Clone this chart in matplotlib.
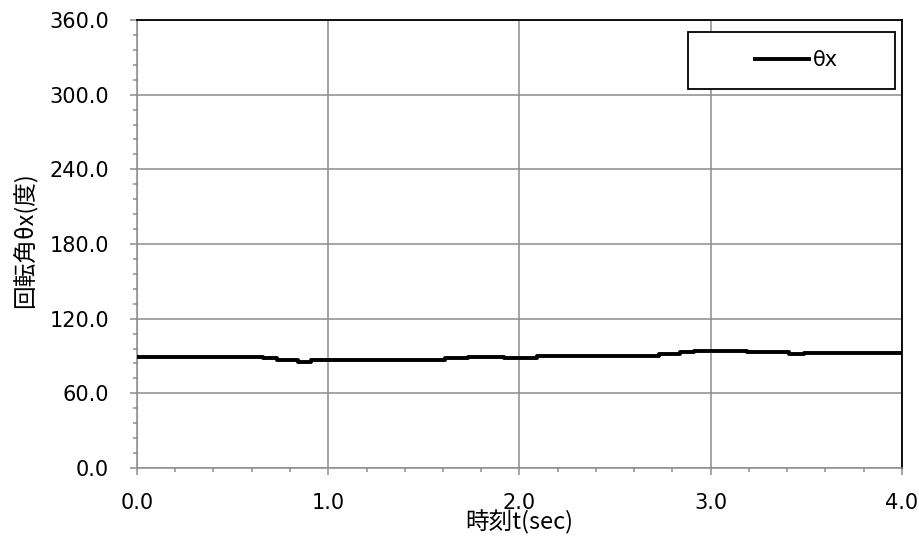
import matplotlib
matplotlib.use("Agg")
import matplotlib.pyplot as plt
from matplotlib.patches import Rectangle
from matplotlib.ticker import MultipleLocator, FormatStrFormatter

# step data (time in sec, rotation angle in deg)
times = [0.0, 0.66, 0.73, 0.84, 0.91, 1.61, 1.73, 1.92, 2.09, 2.73, 2.84, 2.91, 3.19, 3.41, 3.49, 4.0]
theta_x = [89.5, 88.0, 86.5, 85.0, 86.5, 88.0, 89.5, 88.0, 90.0, 91.4, 93.0, 94.3, 93.0, 91.4, 92.6, 92.6]

x_ticks = [0.0, 1.0, 2.0, 3.0, 4.0]
y_ticks = [0.0, 60.0, 120.0, 180.0, 240.0, 300.0, 360.0]

W, H = 920, 537
fig = plt.figure(figsize=(W / 100, H / 100), dpi=100)
ax = fig.add_axes([137 / W, 1 - 468 / H, (902 - 137) / W, (468 - 20) / H])

ax.plot(times, theta_x, color="black", lw=2.8, drawstyle="steps-post",
        solid_joinstyle="round", label="θx", zorder=3)

ax.set_xlim(0, 4)
ax.set_ylim(0, 360)
ax.set_xticks(x_ticks)
ax.set_yticks(y_ticks)
ax.xaxis.set_minor_locator(MultipleLocator(0.2))
ax.yaxis.set_minor_locator(MultipleLocator(12))
ax.xaxis.set_major_formatter(FormatStrFormatter("%.1f"))
ax.yaxis.set_major_formatter(FormatStrFormatter("%.1f"))

grey = "#8c8c8c"
ax.grid(True, which="major", color=grey, lw=1.1)
ax.set_axisbelow(True)
for s in ["left", "bottom"]:
    ax.spines[s].set_color(grey)
    ax.spines[s].set_linewidth(1.1)
for s in ["top", "right"]:
    ax.spines[s].set_color("black")
    ax.spines[s].set_linewidth(1.3)

ax.tick_params(which="major", direction="out", length=5, width=1.1, color=grey,
               labelsize=15, labelcolor="black")
ax.tick_params(which="minor", direction="out", length=3, width=1.1, color=grey)
ax.tick_params(axis="x", which="major", pad=13)
ax.tick_params(axis="y", which="major", pad=15)

cjk = ["Noto Sans CJK JP", "DejaVu Sans"]
fig.text(519 / W, 1 - 522 / H, "時刻t(sec)", ha="center", va="center",
         fontsize=17, family=cjk)
fig.text(25 / W, 1 - 240 / H, "回転角θx(度)", ha="center", va="center",
         rotation=90, fontsize=17, family=cjk)

# legend box
box = Rectangle((688 / W, 1 - 89 / H), 207 / W, 57 / H, transform=fig.transFigure,
                facecolor="white", edgecolor="black", lw=1.3, zorder=4, clip_on=False)
ax.add_patch(box)
leg = ax.legend(loc="center left", bbox_to_anchor=(755 / W, 1 - 60 / H),
                bbox_transform=fig.transFigure, frameon=False, borderpad=0,
                borderaxespad=0, handlelength=2.6, handletextpad=0.2, fontsize=15)
leg.set_zorder(5)

fig.savefig("out.png", dpi=100)
